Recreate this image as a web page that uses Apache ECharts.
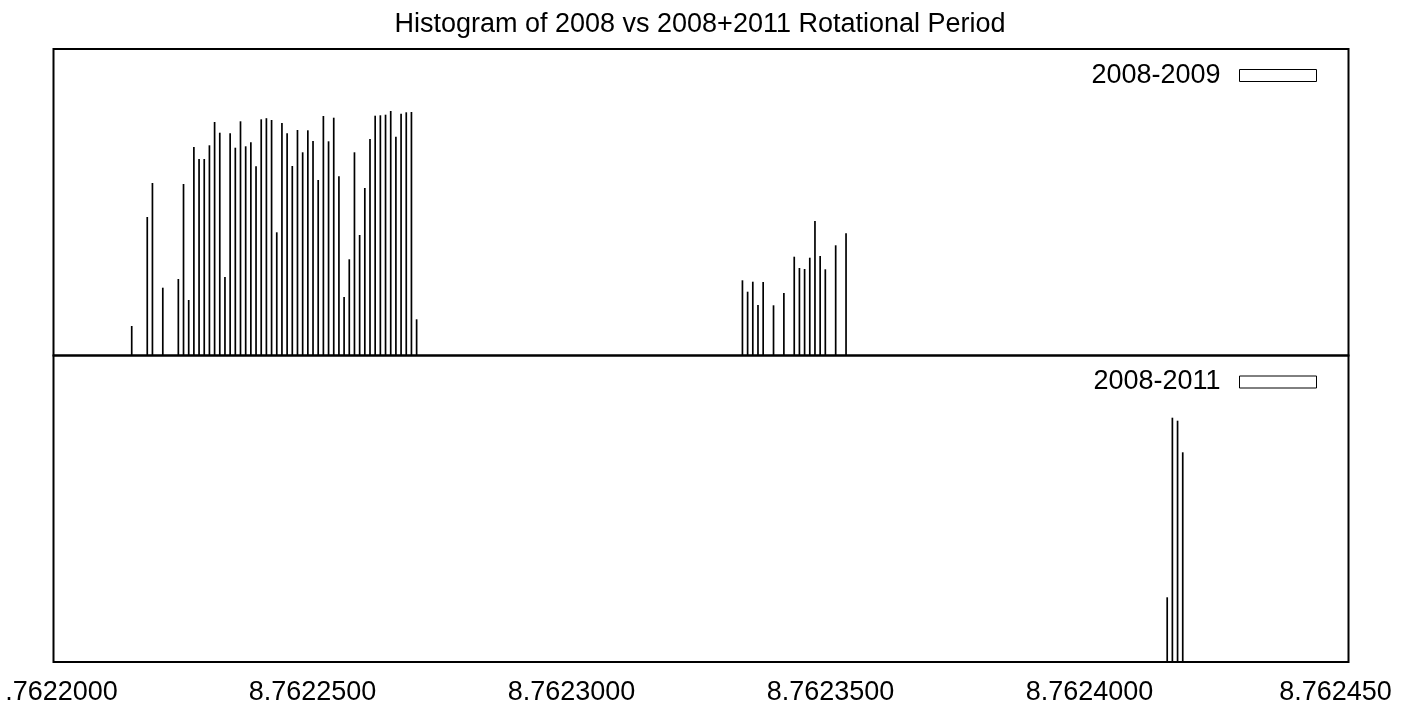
<!DOCTYPE html>
<html>
<head>
<meta charset="utf-8">
<script src="https://cdn.jsdelivr.net/npm/echarts@6/dist/echarts.min.js"></script>
<style>
  html, body { margin: 0; padding: 0; background: #fff; }
  #chart { width: 1417px; height: 706px; }
</style>
</head>
<body>
<div id="chart"></div>
<script>
// ---- Data (bar heights in arbitrary units) ----
const titleText = "Histogram of 2008 vs 2008+2011 Rotational Period";
const seriesNames = ["2008-2009", "2008-2011"];

// 2008-2009 : bin positions (rotational period) and heights
const period2009 = [
  8.7622151, 8.7622181, 8.7622191, 8.7622211, 8.7622241, 8.7622251, 8.7622261, 8.7622271,
  8.7622281, 8.7622291, 8.7622301, 8.7622311, 8.7622321, 8.7622331, 8.7622341, 8.7622351,
  8.7622361, 8.7622371, 8.7622381, 8.7622391, 8.7622401, 8.7622411, 8.7622421, 8.7622431,
  8.7622441, 8.7622451, 8.7622461, 8.7622471, 8.7622481, 8.7622491, 8.7622501, 8.7622511,
  8.7622521, 8.7622531, 8.7622541, 8.7622551, 8.7622561, 8.7622571, 8.7622581, 8.7622591,
  8.7622601, 8.7622611, 8.7622621, 8.7622631, 8.7622641, 8.7622651, 8.7622661, 8.7622671,
  8.7622681, 8.7622691, 8.7622701,
  8.7623330, 8.7623340, 8.7623350, 8.7623360, 8.7623370, 8.7623390, 8.7623410, 8.7623430,
  8.7623440, 8.7623450, 8.7623460, 8.7623470, 8.7623480, 8.7623490, 8.7623510, 8.7623530
];
const count2009 = [
  29.5, 138.5, 172.5, 67.8, 76.5, 171.5, 55.5, 208.5,
  196.5, 196.5, 210.2, 233.5, 222.8, 78.5, 222.2, 207.8,
  234.2, 209.2, 213.2, 189.2, 236.2, 237.3, 235.5, 123.2,
  232.5, 222.2, 189.5, 225.5, 203.2, 225.2, 214.5, 175.5,
  239.5, 214.2, 237.8, 179.2, 58.5, 96.2, 203.2, 120.5,
  167.5, 216.5, 239.8, 240.2, 240.8, 244.5, 218.8, 241.8,
  243.2, 243.5, 36.2,
  75.2, 63.8, 73.8, 50.5, 73.5, 50.2, 62.5, 98.8,
  87.5, 86.5, 97.8, 134.5, 99.5, 86.2, 110.2, 122.2
];

// 2008-2011
const period2011 = [8.762415, 8.762416, 8.762417, 8.762418];
const count2011 = [64.7, 244.3, 241.3, 209.7];

// x axis ticks
const xMin = 8.7622, xMax = 8.76245, xStep = 0.00005;
const yMax = 306.5;

// ---- Chart ----
const FONT = "'Liberation Sans', Arial, Helvetica, sans-serif";
const FS = 27;
const pair = (xs, ys) => xs.map((x, i) => [x, ys[i]]);

const chart = echarts.init(document.getElementById('chart'), null, { renderer: 'canvas' });

const gridCommon = { left: 53.5, right: 68.5, height: 306.5, show: true,
  borderColor: '#000', borderWidth: 2, backgroundColor: 'transparent' };

function xAxisBase(gridIndex, showLabels) {
  return {
    type: 'value', gridIndex: gridIndex, min: xMin, max: xMax, interval: xStep,
    axisLine: { show: false }, axisTick: { show: false }, splitLine: { show: false },
    axisLabel: {
      show: showLabels, margin: 17, color: '#000', fontFamily: FONT, fontSize: FS,
      formatter: function (v) {
        if (Math.abs(v - xMin) < 1e-9) return '{a|.7622000}';
        if (Math.abs(v - xMax) < 1e-9) return '{b|8.762450}';
        return v.toFixed(7);
      },
      rich: {
        a: { fontFamily: FONT, fontSize: FS, color: '#000', padding: [0, 0, 0, 16] },
        b: { fontFamily: FONT, fontSize: FS, color: '#000', padding: [0, 26, 0, 0] }
      }
    }
  };
}
function yAxisBase(gridIndex) {
  return { type: 'value', gridIndex: gridIndex, min: 0, max: yMax, show: false,
    splitLine: { show: false } };
}

const legendCommon = {
  orient: 'horizontal', align: 'right', right: 95, itemWidth: 77, itemHeight: 12,
  itemGap: 0, icon: 'rect',
  textStyle: { fontFamily: FONT, fontSize: FS, color: '#000', padding: [0, 14, 0, 0] }
};

chart.setOption({
  animation: false,
  backgroundColor: '#fff',
  title: {
    text: titleText, left: 695, top: 6, textAlign: 'center',
    textStyle: { fontFamily: FONT, fontSize: FS, fontWeight: 'normal', color: '#000' }
  },
  legend: [
    Object.assign({}, legendCommon, { top: 57,
      data: [{ name: seriesNames[0], itemStyle: { color: '#fff', borderColor: '#000', borderWidth: 1 } }] }),
    Object.assign({}, legendCommon, { top: 363.5,
      data: [{ name: seriesNames[1], itemStyle: { color: '#fff', borderColor: '#000', borderWidth: 1 } }] })
  ],
  grid: [
    Object.assign({}, gridCommon, { top: 49 }),
    Object.assign({}, gridCommon, { top: 355.5 })
  ],
  xAxis: [xAxisBase(0, false), xAxisBase(1, true)],
  yAxis: [yAxisBase(0), yAxisBase(1)],
  series: [
    { name: seriesNames[0], type: 'bar', xAxisIndex: 0, yAxisIndex: 0, barWidth: 1.7,
      itemStyle: { color: '#000' }, data: pair(period2009, count2009) },
    { name: seriesNames[1], type: 'bar', xAxisIndex: 1, yAxisIndex: 1, barWidth: 1.7,
      itemStyle: { color: '#000' }, data: pair(period2011, count2011) }
  ]
});
</script>
</body>
</html>
